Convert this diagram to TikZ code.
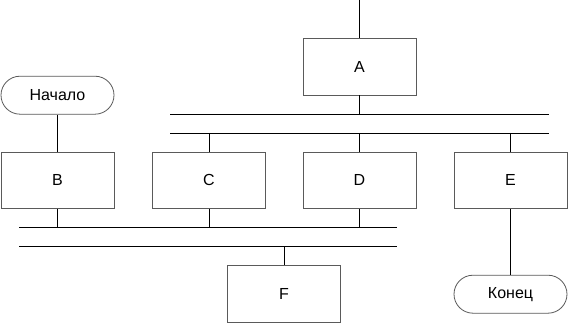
\documentclass[tikz,border=0pt]{standalone}
\usepackage{fontspec}
\setmainfont{Liberation Sans}
\definecolor{box-gray}{HTML}{5A5A5A}

\begin{document}
\begin{tikzpicture}[x=1pt, y=-1pt, line width=0.8pt,
      every node/.style={font=\fontsize{16}{19}\selectfont},
      blockbox/.style={draw=box-gray, fill=white, inner sep=0pt,
          minimum width=113pt, minimum height=56.5pt},
      termbox/.style={draw=box-gray, fill=white, inner sep=0pt, rounded corners=19pt,
          minimum width=113pt, minimum height=38pt}]
    \useasboundingbox (0,0) rectangle (568,323);
    \coordinate (top) at (359.5,0);
    \node[blockbox] (A) at (359.5,66.7) {A};
    \node[termbox] (start) at (57.5,95.2) {Начало};
    \node[blockbox] (B) at (57.5,180.2) {B};
    \node[blockbox] (C) at (209,180.2) {C};
    \node[blockbox] (D) at (359.5,180.2) {D};
    \node[blockbox] (E) at (510.5,180.2) {E};
    \node[blockbox] (F) at (284,293.7) {F};
    \node[termbox] (stop) at (510.5,294.2) {Конец};
    % upper double bar
    \coordinate (up1L) at (170,114.3);
    \coordinate (up1R) at (549,114.3);
    \coordinate (up2L) at (170,133);
    \coordinate (up2R) at (549,133);
    \draw (up1L) -- (up1R);
    \draw (up2L) -- (up2R);
    % lower double bar
    \coordinate (low1L) at (19.3,227.7);
    \coordinate (low1R) at (397,227.7);
    \coordinate (low2L) at (19.3,246.7);
    \coordinate (low2R) at (397,246.7);
    \draw (low1L) -- (low1R);
    \draw (low2L) -- (low2R);
    % connectors
    \draw (top) -- (A.north);
    \draw (A.south) -- (A.south |- up1L);
    \draw (C.north |- up2L) -- (C.north);
    \draw (D.north |- up2L) -- (D.north);
    \draw (E.north |- up2L) -- (E.north);
    \draw (start.south) -- (B.north);
    \draw (B.south) -- (B.south |- low1L);
    \draw (C.south) -- (C.south |- low1L);
    \draw (D.south) -- (D.south |- low1L);
    \draw (F.north |- low2L) -- (F.north);
    \draw (E.south) -- (stop.north);
  \end{tikzpicture}
\end{document}
